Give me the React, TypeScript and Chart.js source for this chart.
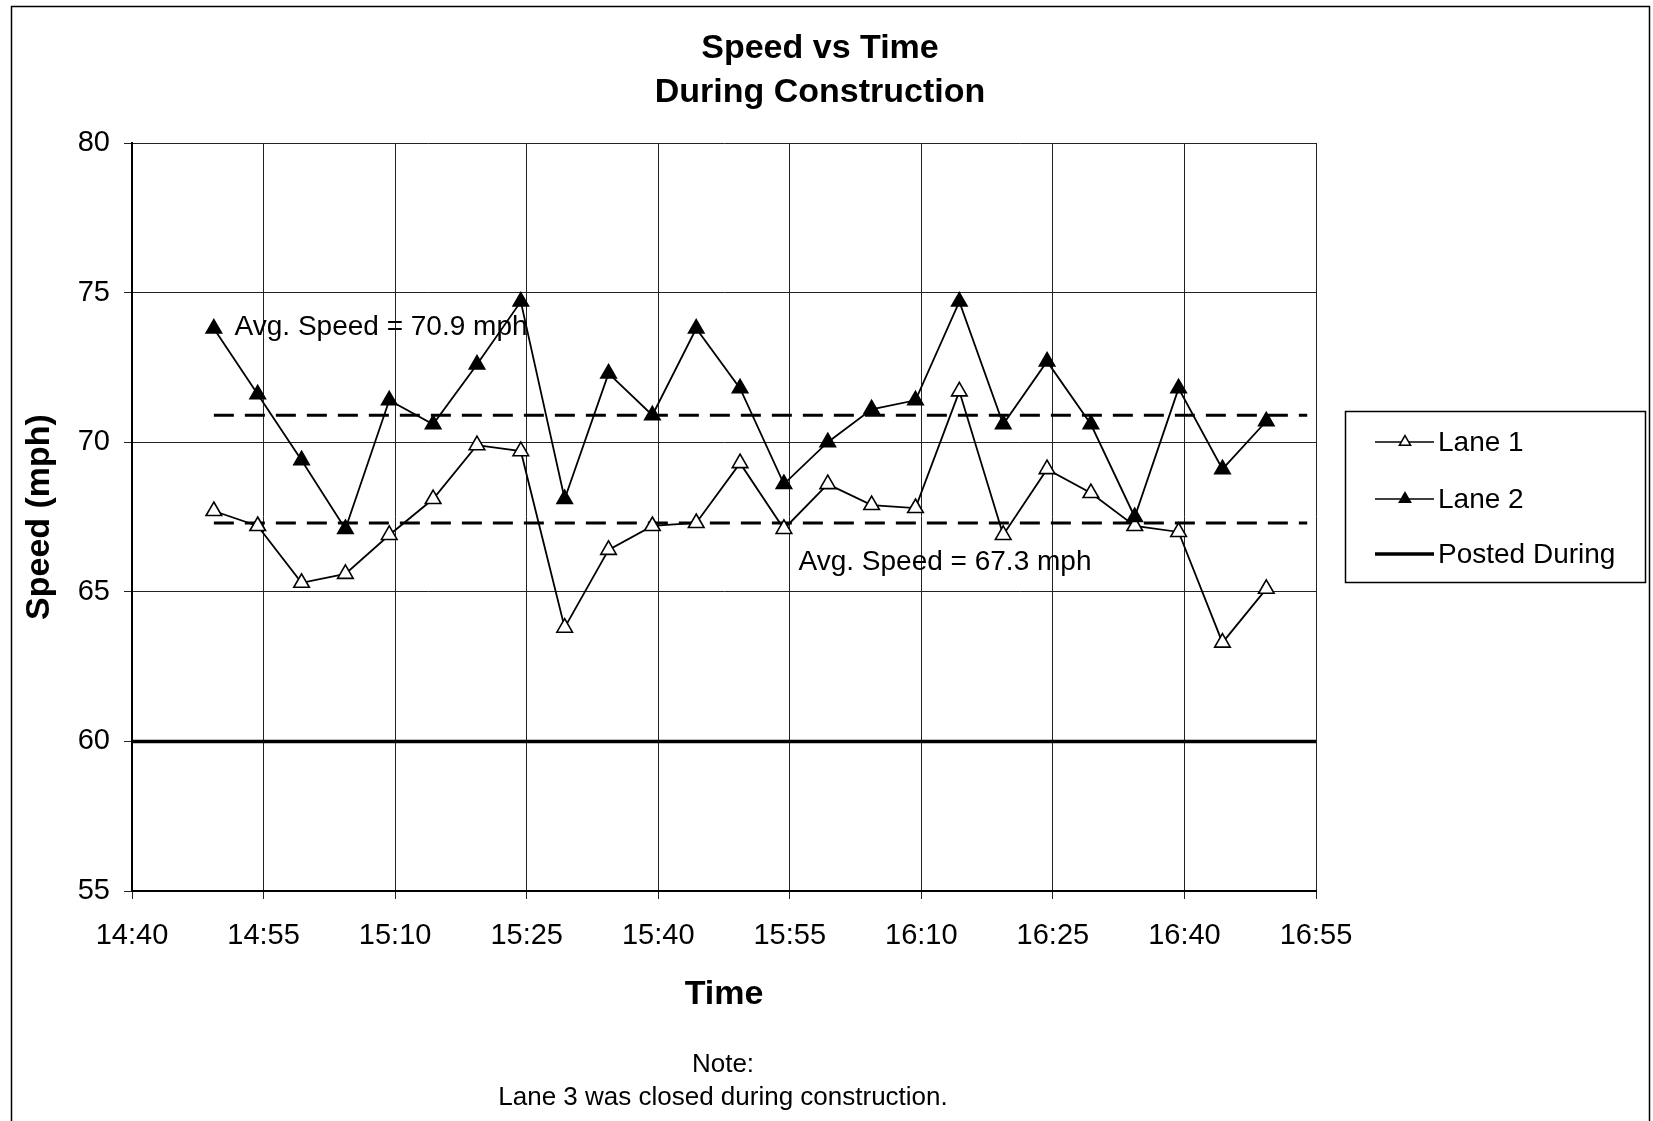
import React, { useEffect, useRef } from 'react';
import { Chart, registerables } from 'chart.js';

Chart.register(...registerables);

const FONT = "'Liberation Sans', Arial, Helvetica, sans-serif";

// Sample times (every 5 minutes) and mean speeds per lane
const times = [
  '14:49:20', '14:54:20', '14:59:20', '15:04:20', '15:09:20', '15:14:20', '15:19:20',
  '15:24:20', '15:29:20', '15:34:20', '15:39:20', '15:44:20', '15:49:20', '15:54:20',
  '15:59:20', '16:04:20', '16:09:20', '16:14:20', '16:19:20', '16:24:20', '16:29:20',
  '16:34:20', '16:39:20', '16:44:20', '16:49:20',
];
const lane1 = [
  67.7, 67.2, 65.3, 65.6, 66.9, 68.1, 69.9, 69.7, 63.8, 66.4, 67.2, 67.3, 69.3,
  67.1, 68.6, 67.9, 67.8, 71.7, 66.9, 69.1, 68.3, 67.2, 67.0, 63.3, 65.1,
];
const lane2 = [
  73.8, 71.6, 69.4, 67.1, 71.4, 70.6, 72.6, 74.7, 68.1, 72.3, 70.9, 73.8, 71.8,
  68.6, 70.0, 71.1, 71.4, 74.7, 70.6, 72.7, 70.6, 67.5, 71.8, 69.1, 70.7,
];

// Reference levels
const postedSpeed = 60;
const avgLane1 = 67.3;
const avgLane2 = 70.9;
const avgStart = '14:49:20';
const avgEnd = '16:54:00';

// Axis ticks
const xTickLabels = ['14:40', '14:55', '15:10', '15:25', '15:40', '15:55', '16:10', '16:25', '16:40', '16:55'];
const yTickValues = [55, 60, 65, 70, 75, 80];

const toMinutes = (t: string) => {
  const [h, m, s = 0] = t.split(':').map(Number);
  return h * 60 + m + s / 60;
};
const fmtMinutes = (v: number) => {
  const h = Math.floor(v / 60);
  const m = Math.round(v - h * 60);
  return `${h}:${String(m).padStart(2, '0')}`;
};

const xMin = toMinutes(xTickLabels[0]);
const xMax = toMinutes(xTickLabels[xTickLabels.length - 1]);

const W = 1653;
const H = 1121;

// Titles, labels, legend box and page frame
const decorations = {
  id: 'decorations',
  afterDraw(chart: any) {
    const { ctx, scales } = chart;
    const x = scales.x;
    const y = scales.y;
    ctx.save();
    ctx.fillStyle = '#000';
    ctx.strokeStyle = '#000';

    // page frame
    ctx.lineWidth = 1.5;
    ctx.beginPath();
    ctx.moveTo(11.5, H);
    ctx.lineTo(11.5, 6.5);
    ctx.lineTo(1649.5, 6.5);
    ctx.lineTo(1649.5, H);
    ctx.stroke();

    // chart title
    ctx.textAlign = 'center';
    ctx.textBaseline = 'middle';
    ctx.font = `bold 34px ${FONT}`;
    ctx.fillText('Speed vs Time', 820, 49);
    ctx.fillText('During Construction', 820, 93);

    // axis titles
    ctx.fillText('Time', (x.left + x.right) / 2, 995);
    ctx.save();
    ctx.translate(40, (y.top + y.bottom) / 2);
    ctx.rotate(-Math.PI / 2);
    ctx.fillText('Speed (mph)', 0, 0);
    ctx.restore();

    // average labels
    ctx.font = `28px ${FONT}`;
    ctx.textAlign = 'left';
    ctx.fillText(
      `Avg. Speed = ${avgLane2.toFixed(1)} mph`,
      x.getPixelForValue(891.7),
      y.getPixelForValue(73.85)
    );
    ctx.fillText(
      `Avg. Speed = ${avgLane1.toFixed(1)} mph`,
      x.getPixelForValue(956),
      y.getPixelForValue(66.0)
    );

    // note
    ctx.font = `26px ${FONT}`;
    ctx.textAlign = 'center';
    ctx.fillText('Note:', 723, 1065);
    ctx.fillText('Lane 3 was closed during construction.', 723, 1098);

    // legend
    const lx = 1345.5;
    const ly = 411.5;
    ctx.lineWidth = 1.5;
    ctx.strokeRect(lx, ly, 300, 171);
    const rows = [
      { label: 'Lane 1', y: 442, marker: 'open' },
      { label: 'Lane 2', y: 499, marker: 'filled' },
      { label: 'Posted During', y: 554, marker: 'none' },
    ];
    ctx.font = `28px ${FONT}`;
    ctx.textAlign = 'left';
    rows.forEach((r) => {
      ctx.beginPath();
      ctx.lineWidth = r.marker === 'none' ? 3.5 : 1.5;
      ctx.moveTo(1375, r.y);
      ctx.lineTo(1434, r.y);
      ctx.stroke();
      if (r.marker !== 'none') {
        const cx = 1405;
        const rad = 6.5;
        ctx.beginPath();
        ctx.moveTo(cx, r.y - rad);
        ctx.lineTo(cx + rad * 0.866, r.y + rad * 0.5);
        ctx.lineTo(cx - rad * 0.866, r.y + rad * 0.5);
        ctx.closePath();
        ctx.fillStyle = r.marker === 'open' ? '#fff' : '#000';
        ctx.fill();
        ctx.lineWidth = 1.5;
        ctx.stroke();
        ctx.fillStyle = '#000';
      }
      ctx.fillText(r.label, 1438, r.y + 1);
    });

    ctx.restore();
  },
};

const whiteBackground = {
  id: 'whiteBackground',
  beforeDraw(chart: any) {
    const { ctx } = chart;
    ctx.save();
    ctx.fillStyle = '#fff';
    ctx.fillRect(0, 0, chart.width, chart.height);
    ctx.restore();
  },
};

export default function App() {
  const canvasRef = useRef<HTMLCanvasElement | null>(null);

  useEffect(() => {
    const canvas = canvasRef.current;
    if (!canvas) return;

    const pts = (vals: number[]) => times.map((t, i) => ({ x: toMinutes(t), y: vals[i] }));

    const chart = new Chart(canvas, {
      type: 'line',
      data: {
        datasets: [
          {
            label: 'Lane 2',
            data: pts(lane2),
            borderColor: '#000',
            borderWidth: 1.8,
            pointStyle: 'triangle',
            pointRadius: 9,
            pointBackgroundColor: '#000',
            pointBorderColor: '#000',
            pointBorderWidth: 1.5,
          },
          {
            label: 'Lane 1',
            data: pts(lane1),
            borderColor: '#000',
            borderWidth: 1.8,
            pointStyle: 'triangle',
            pointRadius: 9,
            pointBackgroundColor: '#fff',
            pointBorderColor: '#000',
            pointBorderWidth: 1.6,
          },
          {
            label: 'Lane 2 average',
            data: [
              { x: toMinutes(avgStart), y: avgLane2 },
              { x: toMinutes(avgEnd), y: avgLane2 },
            ],
            borderColor: '#000',
            borderWidth: 3.2,
            borderDash: [20, 11],
            pointRadius: 0,
          },
          {
            label: 'Lane 1 average',
            data: [
              { x: toMinutes(avgStart), y: avgLane1 },
              { x: toMinutes(avgEnd), y: avgLane1 },
            ],
            borderColor: '#000',
            borderWidth: 3.2,
            borderDash: [20, 11],
            pointRadius: 0,
          },
          {
            label: 'Posted During',
            data: [
              { x: xMin, y: postedSpeed },
              { x: xMax, y: postedSpeed },
            ],
            borderColor: '#000',
            borderWidth: 3.5,
            pointRadius: 0,
          },
        ],
      },
      options: {
        responsive: false,
        animation: false,
        devicePixelRatio: 1,
        layout: { padding: { top: 143, right: 337, bottom: 0, left: 0 } },
        elements: { line: { tension: 0 } },
        plugins: {
          legend: { display: false },
          title: { display: false },
          tooltip: { enabled: false },
        },
        scales: {
          x: {
            type: 'linear',
            min: xMin,
            max: xMax,
            afterBuildTicks: (s: any) => {
              s.ticks = xTickLabels.map((t) => ({ value: toMinutes(t) }));
            },
            afterFit: (s: any) => {
              s.height = H - 891;
            },
            grid: { color: '#222', lineWidth: 1, tickLength: 8, drawTicks: true },
            border: { color: '#000', width: 2 },
            ticks: {
              color: '#000',
              font: { family: FONT, size: 29 },
              padding: 20,
              maxRotation: 0,
              autoSkip: false,
              callback: (v: any) => fmtMinutes(Number(v)),
            },
          },
          y: {
            type: 'linear',
            min: yTickValues[0],
            max: yTickValues[yTickValues.length - 1],
            afterBuildTicks: (s: any) => {
              s.ticks = yTickValues.map((v) => ({ value: v }));
            },
            afterFit: (s: any) => {
              s.width = 132;
            },
            grid: { color: '#222', lineWidth: 1, tickLength: 8, drawTicks: true },
            border: { color: '#000', width: 2 },
            ticks: {
              color: '#000',
              font: { family: FONT, size: 29 },
              padding: 14,
              autoSkip: false,
            },
          },
        },
      },
      plugins: [whiteBackground, decorations],
    });

    return () => chart.destroy();
  }, []);

  return (
    <div style={{ position: 'fixed', left: 0, top: 0, width: W, height: H, background: '#fff' }}>
      <canvas ref={canvasRef} width={W} height={H} style={{ display: 'block' }} />
    </div>
  );
}
